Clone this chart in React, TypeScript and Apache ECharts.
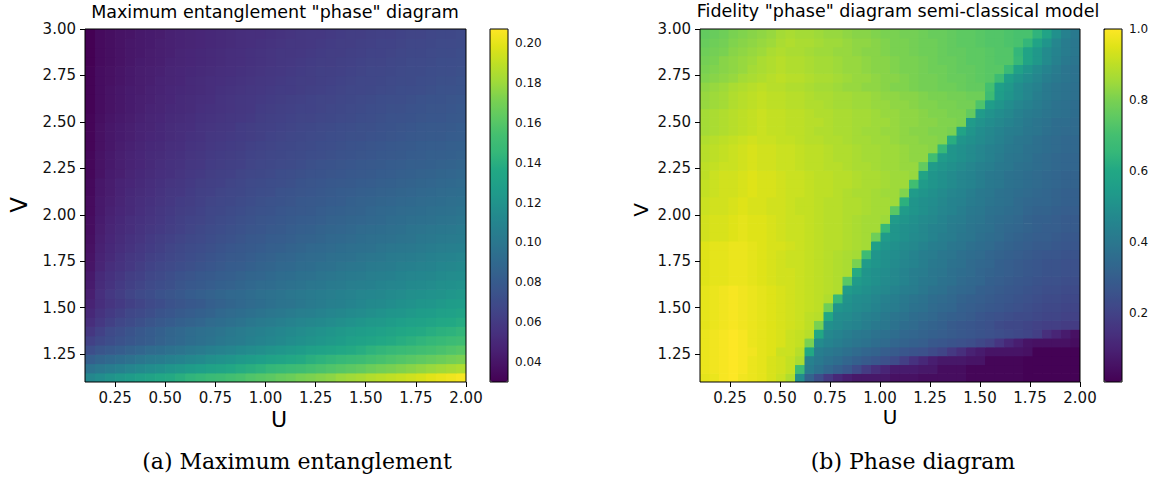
import React, { useEffect, useRef } from "react";
import * as echarts from "echarts";

// ---------- colour map (viridis) ----------
const VIRIDIS = [
  "#440154", "#471365", "#482475", "#463480", "#414487", "#3b528b", "#355f8d",
  "#2f6c8e", "#2a788e", "#25848e", "#21918c", "#1f9e89", "#22a884", "#35b779",
  "#44bf70", "#5ec962", "#7ad151", "#9fda3a", "#bddf26", "#dfe318", "#fde725",
];

// ---------- panel (a): maximum entanglement ----------
const uCentersA = [
  0.125, 0.175, 0.225, 0.275, 0.325, 0.375, 0.425, 0.475, 0.525, 0.575, 0.625, 0.675, 0.725,
  0.775, 0.825, 0.875, 0.925, 0.975, 1.025, 1.075, 1.125, 1.175, 1.225, 1.275, 1.325, 1.375,
  1.425, 1.475, 1.525, 1.575, 1.625, 1.675, 1.725, 1.775, 1.825, 1.875, 1.925, 1.975,
];
const vCentersA = [
  1.125, 1.175, 1.225, 1.275, 1.325, 1.375, 1.425, 1.475, 1.525, 1.575, 1.625, 1.675, 1.725,
  1.775, 1.825, 1.875, 1.925, 1.975, 2.025, 2.075, 2.125, 2.175, 2.225, 2.275, 2.325, 2.375,
  2.425, 2.475, 2.525, 2.575, 2.625, 2.675, 2.725, 2.775, 2.825, 2.875, 2.925, 2.975,
];
// entanglement x 1000, rows from V = 1.125 (bottom) up to V = 2.975 (top)
const entanglementMilli: number[][] = [
  [112,116,120,123,126,129,132,135,137,140,143,145,148,150,153,155,158,160,162,165,167,170,172,174,176,179,181,183,186,188,190,192,194,196,199,201,203,205],
  [97,101,104,107,110,113,116,118,121,123,126,128,131,133,135,138,140,142,145,147,149,151,154,156,158,160,162,164,167,169,171,173,175,177,179,181,183,185],
  [83,87,90,93,96,99,102,104,107,109,112,114,117,119,121,124,126,128,131,133,135,137,140,142,144,146,148,150,153,155,157,159,161,163,165,167,169,171],
  [72,76,79,82,85,88,91,93,96,98,101,103,106,108,110,113,115,117,120,122,124,126,129,131,133,135,137,139,142,144,146,148,150,152,154,156,158,160],
  [64,68,71,74,77,80,82,85,88,90,93,95,97,100,102,104,107,109,111,113,116,118,120,122,124,126,129,131,133,135,137,139,141,143,145,147,149,151],
  [58,64,69,72,75,78,81,84,87,89,92,94,96,98,101,103,105,107,109,111,113,115,117,119,121,123,125,127,128,130,132,134,136,137,139,141,142,144],
  [53,59,63,67,70,73,76,79,81,84,86,88,91,93,95,97,100,102,104,106,108,110,112,113,115,117,119,121,123,124,126,128,130,131,133,135,136,138],
  [50,56,60,63,67,69,72,75,77,80,82,84,86,89,91,93,95,97,99,101,103,105,106,108,110,112,114,115,117,119,121,122,124,126,127,129,130,132],
  [47,53,57,60,63,66,69,71,74,76,78,80,83,85,87,89,91,93,95,97,98,100,102,104,106,107,109,111,113,114,116,118,119,121,122,124,126,127],
  [45,54,59,62,66,69,71,74,76,78,81,83,85,87,89,90,92,94,96,97,99,101,102,104,105,107,108,110,111,112,114,115,117,118,119,120,122,123],
  [43,52,56,60,63,66,69,71,73,76,78,80,82,84,85,87,89,91,92,94,96,97,99,100,102,103,105,106,107,109,110,111,113,114,115,117,118,119],
  [42,51,55,58,62,64,67,69,72,74,76,78,80,82,83,85,87,88,90,92,93,95,96,98,99,101,102,103,105,106,107,109,110,111,112,114,115,116],
  [40,48,53,56,59,62,65,67,69,71,73,75,77,79,81,82,84,86,87,89,90,92,93,95,96,98,99,100,102,103,104,106,107,108,109,111,112,113],
  [39,47,51,55,58,60,63,65,67,69,71,73,75,77,79,80,82,84,85,87,88,90,91,92,94,95,96,98,99,100,102,103,104,105,107,108,109,110],
  [38,46,50,53,56,59,61,63,66,68,70,71,73,75,77,78,80,81,83,84,86,87,89,90,91,93,94,95,96,98,99,100,101,102,104,105,106,107],
  [37,45,49,52,55,57,60,62,64,66,68,69,71,73,74,76,78,79,81,82,83,85,86,87,89,90,91,93,94,95,96,97,98,100,101,102,103,104],
  [36,44,48,51,53,56,58,60,62,64,66,68,70,71,73,74,76,77,79,80,82,83,84,86,87,88,89,91,92,93,94,95,97,98,99,100,101,102],
  [36,43,47,50,53,55,57,59,61,63,65,66,68,70,71,73,74,76,77,78,80,81,82,83,85,86,87,88,89,90,92,93,94,95,96,97,98,99],
  [35,42,46,49,51,54,56,58,60,62,63,65,67,68,70,71,73,74,75,77,78,79,80,82,83,84,85,86,88,89,90,91,92,93,94,95,96,97],
  [35,42,45,48,51,53,55,57,59,61,62,64,66,67,68,70,71,73,74,75,76,78,79,80,81,82,84,85,86,87,88,89,90,91,92,93,94,95],
  [34,41,44,47,50,52,54,56,58,59,61,63,64,66,67,68,70,71,72,74,75,76,77,78,80,81,82,83,84,85,86,87,88,89,90,91,92,93],
  [34,41,44,47,49,51,53,55,57,58,60,62,63,64,66,67,69,70,71,72,73,75,76,77,78,79,80,81,82,83,84,85,86,87,88,89,90,91],
  [33,39,43,45,48,50,52,54,55,57,59,60,62,63,64,66,67,68,69,71,72,73,74,75,76,77,78,79,80,81,82,83,84,85,86,87,88,89],
  [33,39,42,45,47,49,51,53,55,56,58,59,61,62,63,64,66,67,68,69,70,71,73,74,75,76,77,78,79,80,81,82,83,83,84,85,86,87],
  [33,39,42,45,47,49,51,52,54,55,57,58,60,61,62,63,65,66,67,68,69,70,71,72,73,74,75,76,77,78,79,80,81,82,83,83,84,85],
  [32,38,41,44,46,48,50,51,53,54,56,57,59,60,61,62,64,65,66,67,68,69,70,71,72,73,74,75,76,77,78,79,80,81,82,82,83,84],
  [32,38,41,43,45,47,49,50,52,53,55,56,58,59,60,61,62,63,65,66,67,68,69,70,71,72,73,73,74,75,76,77,78,79,80,80,81,82],
  [32,38,41,43,45,47,48,50,52,53,54,56,57,58,59,61,62,63,64,65,66,67,68,69,70,71,72,73,73,74,75,76,77,78,79,79,80,81],
  [32,37,40,42,44,46,48,49,51,52,53,55,56,57,58,59,60,62,63,64,65,66,66,67,68,69,70,71,72,73,74,74,75,76,77,77,78,79],
  [31,36,39,41,43,45,47,48,50,51,52,54,55,56,57,58,59,61,62,63,64,65,65,66,67,68,69,70,71,72,73,73,74,75,76,76,77,78],
  [31,36,39,41,43,45,46,48,49,51,52,53,54,56,57,58,59,60,61,62,63,64,65,66,66,67,68,69,70,71,72,72,73,74,75,75,76,77],
  [31,36,39,41,43,44,46,47,49,50,51,52,53,55,56,57,58,59,60,61,61,62,63,64,65,66,67,67,68,69,70,71,71,72,73,74,74,75],
  [31,36,38,40,42,44,45,47,48,49,51,52,53,54,55,56,57,58,59,60,61,62,62,63,64,65,66,67,67,68,69,70,70,71,72,73,73,74],
  [31,36,38,40,42,44,45,46,48,49,50,51,52,53,54,55,56,57,58,59,60,61,62,63,63,64,65,66,67,67,68,69,70,70,71,72,72,73],
  [30,35,37,39,41,43,44,45,47,48,49,50,51,52,53,54,55,56,57,58,59,60,61,62,62,63,64,65,66,66,67,68,69,69,70,71,71,72],
  [30,35,37,39,41,42,44,45,46,48,49,50,51,52,53,54,55,56,57,58,58,59,60,61,62,62,63,64,65,65,66,67,68,68,69,70,70,71],
  [30,35,37,39,41,42,43,45,46,47,48,49,50,51,52,53,54,55,56,57,58,58,59,60,61,62,62,63,64,65,65,66,67,67,68,69,69,70],
  [30,35,37,39,40,42,43,44,46,47,48,49,50,51,52,53,54,54,55,56,57,58,59,59,60,61,62,62,63,64,64,65,66,66,67,68,68,69],
];

// ---------- panel (b): fidelity ----------
const uCentersB = [
  0.12375, 0.17125, 0.21875, 0.26625, 0.31375, 0.36125, 0.40875, 0.45625, 0.50375, 0.55125,
  0.59875, 0.64625, 0.69375, 0.74125, 0.78875, 0.83625, 0.88375, 0.93125, 0.97875, 1.02625,
  1.07375, 1.12125, 1.16875, 1.21625, 1.26375, 1.31125, 1.35875, 1.40625, 1.45375, 1.50125,
  1.54875, 1.59625, 1.64375, 1.69125, 1.73875, 1.78625, 1.83375, 1.88125, 1.92875, 1.97625,
];
const vCentersB = [
  1.12375, 1.17125, 1.21875, 1.26625, 1.31375, 1.36125, 1.40875, 1.45625, 1.50375, 1.55125,
  1.59875, 1.64625, 1.69375, 1.74125, 1.78875, 1.83625, 1.88375, 1.93125, 1.97875, 2.02625,
  2.07375, 2.12125, 2.16875, 2.21625, 2.26375, 2.31125, 2.35875, 2.40625, 2.45375, 2.50125,
  2.54875, 2.59625, 2.64375, 2.69125, 2.73875, 2.78625, 2.83375, 2.88125, 2.92875, 2.97625,
];
// fidelity in percent, rows from V = 1.124 (bottom) up to V = 2.976 (top)
const fidelityPercent: number[][] = [
  [96,97,99,100,98,97,96,94,92,88,49,32,24,17,12,9,7,7,7,7,5,5,5,4,4,4,4,4,2,2,2,2,2,2,1,1,1,1,1,1],
  [97,98,99,100,99,97,96,94,93,91,68,42,38,34,31,28,23,18,14,11,8,8,8,7,7,4,4,4,2,2,2,2,2,2,1,1,1,1,1,1],
  [97,98,99,100,99,97,96,94,93,91,87,44,41,38,36,33,31,29,27,25,23,19,15,12,9,7,7,7,6,6,2,2,2,2,1,1,1,1,1,1],
  [97,98,99,100,99,98,96,95,92,92,89,60,43,41,39,37,35,33,32,30,29,27,26,25,23,21,17,14,10,8,6,6,6,6,5,1,1,1,1,1],
  [97,98,99,100,99,97,96,95,94,92,91,80,48,45,43,41,39,38,36,35,33,32,31,30,28,27,26,25,24,22,20,16,12,9,6,5,5,5,5,4],
  [97,98,99,100,99,97,96,95,94,92,91,89,60,47,45,43,41,40,38,37,36,34,33,32,31,30,29,28,27,26,25,24,23,22,21,19,14,11,8,5],
  [96,97,98,99,98,97,96,95,94,93,92,90,80,50,48,46,45,43,41,40,38,36,35,33,32,31,29,28,27,26,25,23,22,22,21,20,19,19,18,18],
  [96,97,98,99,98,97,96,95,94,93,92,90,89,60,49,48,46,44,43,41,39,38,36,35,34,32,31,30,29,27,26,25,24,23,23,22,21,21,20,20],
  [96,97,98,99,98,97,96,95,94,93,92,91,90,78,52,50,48,47,45,43,42,40,38,37,35,34,33,31,30,29,28,27,26,25,24,23,22,22,21,21],
  [96,97,98,99,98,97,96,95,94,93,92,91,90,88,66,51,49,48,46,44,43,41,39,38,36,35,34,32,31,30,29,28,27,26,25,24,23,23,22,22],
  [96,97,98,99,98,97,96,95,94,93,92,91,90,89,88,54,52,50,48,47,45,43,42,40,38,37,35,34,33,31,30,29,28,27,26,25,24,24,23,23],
  [95,96,96,97,97,96,95,94,93,93,92,91,90,89,88,74,54,52,50,48,47,45,43,41,40,38,37,35,34,33,31,30,29,28,27,26,25,25,24,24],
  [95,96,96,97,97,96,95,94,93,93,92,91,90,89,88,87,61,52,50,49,47,45,43,42,40,39,37,36,35,33,32,31,30,29,28,27,26,26,25,25],
  [95,96,96,97,97,96,95,94,93,92,92,91,90,89,88,87,80,54,52,50,48,46,45,43,41,40,38,37,35,34,33,31,30,29,28,27,26,26,25,25],
  [95,96,96,97,97,96,95,94,93,92,92,91,90,89,88,87,86,68,52,50,49,47,45,43,42,40,39,37,36,35,33,32,31,30,29,28,27,27,26,26],
  [95,96,96,97,97,96,95,94,94,93,92,91,90,89,89,88,87,86,56,52,50,48,47,45,43,42,40,39,37,36,35,33,32,31,30,29,29,28,27,27],
  [93,94,94,95,96,95,95,94,93,92,92,91,90,89,89,88,87,86,78,54,52,50,48,47,45,43,42,40,39,37,36,35,33,32,31,30,30,29,28,28],
  [93,94,94,95,96,95,95,94,93,92,92,91,90,89,89,88,87,86,86,66,52,50,49,47,45,44,42,41,39,38,37,35,34,33,32,31,30,30,29,29],
  [93,94,94,95,96,95,95,94,93,92,92,91,90,89,89,88,87,86,86,85,54,52,50,48,47,45,43,42,40,39,37,36,35,34,32,31,31,30,29,29],
  [92,93,93,94,95,94,94,93,93,92,91,91,90,89,89,88,88,87,86,86,74,54,52,50,48,46,45,43,41,40,38,37,36,35,33,32,32,31,30,30],
  [92,93,93,94,95,94,94,93,93,92,91,91,90,89,89,88,88,87,86,86,85,63,52,50,49,47,45,44,42,41,39,38,37,35,34,33,33,32,31,31],
  [91,92,93,93,94,95,94,94,93,92,92,91,90,90,89,88,87,87,86,85,85,81,54,52,50,48,46,45,43,41,40,38,37,36,35,34,33,32,31,31],
  [91,92,93,93,94,95,94,94,93,92,92,91,90,90,89,89,88,87,87,86,85,85,69,54,52,50,48,46,45,43,41,40,38,37,36,35,34,33,32,32],
  [90,92,93,93,94,95,94,94,93,92,92,91,90,90,89,89,88,87,87,86,85,85,84,58,52,50,48,46,45,43,41,40,38,37,36,35,34,33,32,32],
  [90,91,92,92,93,94,93,93,92,92,91,90,90,89,89,88,87,87,86,85,85,84,84,76,54,52,50,48,46,44,43,41,40,38,37,36,35,34,33,33],
  [89,90,91,92,93,94,93,93,92,92,91,90,90,89,88,88,87,86,86,85,85,84,83,83,69,54,52,50,48,46,44,42,40,39,38,36,35,34,33,33],
  [89,90,91,92,93,94,93,93,92,92,91,90,90,89,88,88,87,86,86,85,85,84,83,83,82,66,52,50,48,46,44,43,41,40,38,37,36,35,34,34],
  [88,89,90,91,92,93,92,92,91,91,90,89,89,88,88,87,86,86,85,85,84,83,83,82,82,81,62,52,50,48,46,44,42,40,39,37,36,35,34,34],
  [86,87,88,89,90,91,92,91,91,90,90,89,88,88,87,87,86,85,85,84,84,83,82,82,81,81,80,58,52,49,47,45,43,42,40,39,37,36,35,35],
  [86,87,88,89,90,91,92,91,91,90,90,89,89,88,87,87,86,86,85,85,84,83,83,82,82,81,81,80,54,51,49,47,45,43,41,39,38,36,36,35],
  [86,87,88,89,90,91,92,91,91,90,90,89,88,88,87,87,86,86,85,84,84,83,83,82,81,81,80,80,76,54,51,49,47,44,42,41,39,38,37,36],
  [84,85,86,88,89,90,91,90,90,89,89,88,88,87,86,86,85,85,84,84,83,83,82,81,81,80,80,79,79,72,55,52,49,46,44,42,40,38,37,36],
  [84,85,86,88,89,90,91,90,90,89,89,88,87,87,86,86,85,85,84,83,83,82,82,81,80,80,79,79,78,78,68,55,52,49,46,43,41,39,38,37],
  [83,84,85,87,88,89,90,89,89,88,88,87,86,86,85,84,84,83,83,82,81,81,80,79,79,78,78,77,76,76,70,56,53,49,46,44,41,39,38,37],
  [81,82,83,84,86,87,88,89,90,89,89,88,87,87,86,85,84,84,83,82,82,81,80,79,79,78,77,77,76,75,74,68,56,52,49,46,43,41,39,38],
  [80,81,82,83,84,86,87,88,89,88,88,87,86,86,85,84,84,83,82,82,81,80,80,79,78,78,77,76,76,75,74,74,67,57,52,48,45,42,39,38],
  [79,80,82,83,84,85,87,88,89,88,88,87,86,86,85,84,84,83,82,82,81,80,80,79,78,77,77,76,75,75,74,73,73,66,58,53,48,44,41,39],
  [78,79,80,82,83,84,85,87,88,87,87,86,85,85,84,84,83,82,82,81,80,80,79,78,78,77,76,76,75,75,74,73,73,65,58,53,48,45,42,40],
  [77,78,79,81,82,83,84,85,87,88,87,87,86,85,85,84,83,83,82,81,80,80,79,78,78,77,76,75,75,74,73,73,72,71,65,58,52,46,42,40],
  [76,77,78,80,81,82,83,84,86,87,86,86,85,84,84,83,82,82,81,80,80,79,79,78,77,77,76,75,75,74,73,73,72,71,71,64,58,50,44,41],
];

// ---------- ticks ----------
const ticksU = [0.25, 0.5, 0.75, 1.0, 1.25, 1.5, 1.75, 2.0];
const ticksV = [1.25, 1.5, 1.75, 2.0, 2.25, 2.5, 2.75, 3.0];
const ticksEnt = [0.04, 0.06, 0.08, 0.1, 0.12, 0.14, 0.16, 0.18, 0.2];
const ticksFid = [0.2, 0.4, 0.6, 0.8, 1.0];

const cellA = 0.05;
const cellB = 0.0475;

function buildCells(us: number[], vs: number[], rows: number[][], scale: number) {
  const out: number[][] = [];
  rows.forEach((row, j) => {
    row.forEach((val, i) => {
      out.push([us[i], vs[j], val / scale]);
    });
  });
  return out;
}

function makeRender(du: number, dv: number) {
  return (params: any, api: any) => {
    const u = api.value(0);
    const v = api.value(1);
    const p0 = api.coord([u - du / 2, v + dv / 2]);
    const p1 = api.coord([u + du / 2, v - dv / 2]);
    return {
      type: "rect",
      shape: { x: p0[0], y: p0[1], width: p1[0] - p0[0] + 0.7, height: p1[1] - p0[1] + 0.7 },
      style: { fill: api.visual("color") },
    };
  };
}

const FONT = "DejaVu Sans";

function plotXAxis(gridIndex: number) {
  return {
    type: "value", gridIndex, min: 0.1, max: 2.0,
    axisLine: { show: false }, splitLine: { show: false },
    axisTick: { show: true, length: 5, lineStyle: { color: "#000", width: 1 }, customValues: ticksU },
    axisLabel: {
      show: true, customValues: ticksU, formatter: (v: number) => v.toFixed(2),
      color: "#111", fontSize: 15, fontFamily: FONT, margin: 8,
    },
  };
}
function plotYAxis(gridIndex: number) {
  return {
    type: "value", gridIndex, min: 1.1, max: 3.0,
    axisLine: { show: false }, splitLine: { show: false },
    axisTick: { show: true, length: 5, lineStyle: { color: "#000", width: 1 }, customValues: ticksV },
    axisLabel: {
      show: true, customValues: ticksV, formatter: (v: number) => v.toFixed(2),
      color: "#111", fontSize: 15, fontFamily: FONT, margin: 9,
    },
  };
}
function barYAxis(gridIndex: number, min: number, max: number, ticks: number[], digits: number) {
  return {
    type: "value", gridIndex, min, max, position: "right",
    axisLine: { show: false }, splitLine: { show: false },
    axisTick: { show: true, length: 5, lineStyle: { color: "#000", width: 1 }, customValues: ticks },
    axisLabel: {
      show: true, customValues: ticks, formatter: (v: number) => v.toFixed(digits),
      color: "#111", fontSize: 12, fontFamily: FONT, margin: 7,
    },
  };
}

function txt(x: number, y: number, text: string, font: string, rotation = 0) {
  return {
    type: "text", x, y, rotation, z: 100,
    style: {
      text, font, fill: "#000",
      textAlign: "center", textVerticalAlign: "middle", align: "center", verticalAlign: "middle",
    },
  };
}

export default function App() {
  const ref = useRef<HTMLDivElement>(null);
  useEffect(() => {
    if (!ref.current) return;
    const chart = echarts.init(ref.current, undefined, { renderer: "svg" });
    const dataA = buildCells(uCentersA, vCentersA, entanglementMilli, 1000);
    const dataB = buildCells(uCentersB, vCentersB, fidelityPercent, 100);
    const frame = { show: true, borderColor: "#000", borderWidth: 1, backgroundColor: "transparent", z: 10 };
    chart.setOption({
      animation: false,
      textStyle: { fontFamily: FONT },
      grid: [
        { left: 85, top: 29, width: 381, height: 353, ...frame },
        { left: 490, top: 29, width: 18, height: 353, ...frame },
        { left: 700, top: 29, width: 380, height: 353, ...frame },
        { left: 1104, top: 29, width: 18, height: 353, ...frame },
      ],
      xAxis: [
        plotXAxis(0),
        { type: "value", gridIndex: 1, show: false, min: 0, max: 1 },
        plotXAxis(2),
        { type: "value", gridIndex: 3, show: false, min: 0, max: 1 },
      ],
      yAxis: [
        plotYAxis(0),
        barYAxis(1, 0.03, 0.207, ticksEnt, 2),
        plotYAxis(2),
        barYAxis(3, 0.007, 1.0, ticksFid, 1),
      ],
      visualMap: [
        {
          type: "continuous", seriesIndex: 0, dimension: 2, min: 0.03, max: 0.207,
          inRange: { color: VIRIDIS }, calculable: false, left: 490, top: 29,
          itemWidth: 18, itemHeight: 353, padding: 0, text: null, show: true,
        },
        {
          type: "continuous", seriesIndex: 1, dimension: 2, min: 0.007, max: 1.0,
          inRange: { color: VIRIDIS }, calculable: false, left: 1104, top: 29,
          itemWidth: 18, itemHeight: 353, padding: 0, text: null, show: true,
        },
      ],
      series: [
        {
          type: "custom", xAxisIndex: 0, yAxisIndex: 0, data: dataA,
          renderItem: makeRender(cellA, cellA), encode: { x: 0, y: 1 },
          clip: true, silent: true, z: 1, progressive: 0,
        },
        {
          type: "custom", xAxisIndex: 2, yAxisIndex: 2, data: dataB,
          renderItem: makeRender(cellB, cellB), encode: { x: 0, y: 1 },
          clip: true, silent: true, z: 1, progressive: 0,
        },
      ],
      graphic: [
        txt(275, 12, 'Maximum entanglement "phase" diagram', `17.5px "${FONT}"`),
        txt(19, 205, "V", `23px "${FONT}"`, Math.PI / 2),
        txt(279, 419, "U", `22px "${FONT}"`),
        txt(297, 461, "(a) Maximum entanglement", `22px "DejaVu Serif"`),
        txt(898, 11, 'Fidelity "phase" diagram semi-classical model', `17.5px "${FONT}"`),
        txt(641, 210, "V", `20px "${FONT}"`, Math.PI / 2),
        txt(890, 417, "U", `20px "${FONT}"`),
        txt(913, 461, "(b) Phase diagram", `22px "DejaVu Serif"`),
      ],
    });
    return () => chart.dispose();
  }, []);
  return (
    <div
      ref={ref}
      style={{ position: "absolute", left: 0, top: 0, width: 1168, height: 478, background: "#fff" }}
    />
  );
}
